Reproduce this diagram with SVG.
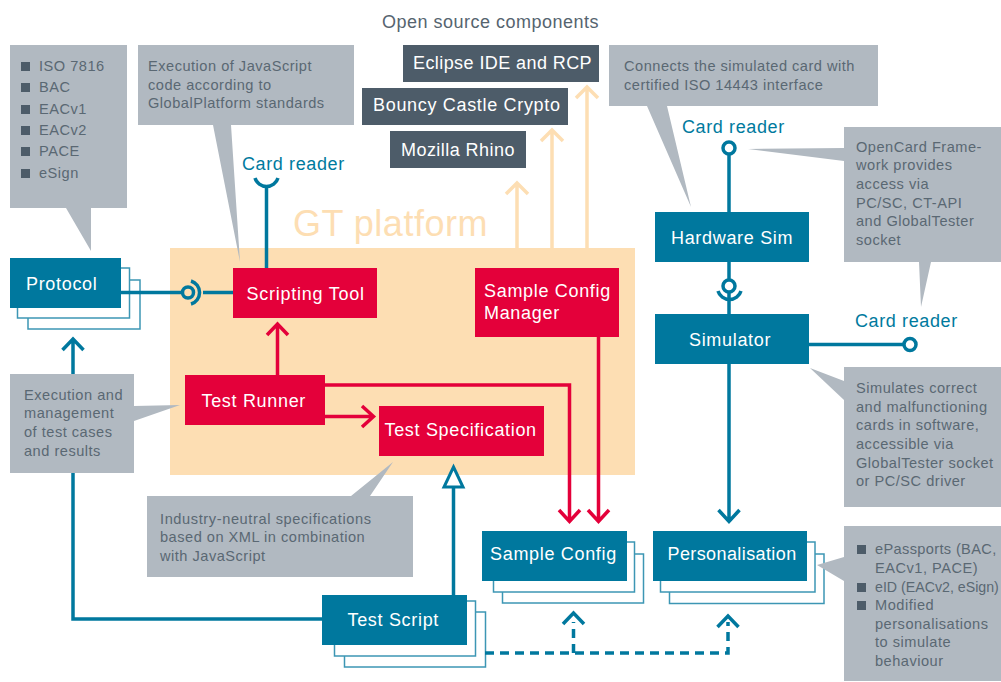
<svg xmlns="http://www.w3.org/2000/svg" width="1001" height="682" viewBox="0 0 1001 682">
<style>
text{font-family:"Liberation Sans",Arial,sans-serif}
.n{font-size:18px;fill:#fff;letter-spacing:.68px}
.c{font-size:14.6px;fill:#5a6873;letter-spacing:.5px}
.l{font-size:18px;fill:#007a9e;letter-spacing:.62px}
.t{fill:#00789e}.r{fill:#e4003a}.g{fill:#b1b9c1}.d{fill:#4d5c69}
.s{fill:#fff;stroke:#3c96b4;stroke-width:1.5}
.lt,.lr,.lo,.ld{fill:none;stroke-width:3.500}
.lt,.ld{stroke:#00789e}.lr{stroke:#e4003a}.lo{stroke:#fddeb3}
.ld{stroke-dasharray:9 6}
</style>
<rect width="1001" height="682" fill="#fff"/>
<rect id="gt-platform" x="170" y="248" width="465" height="227" fill="#fddeb3"/>
<text x="293" y="236" font-size="36" letter-spacing=".5" fill="#fddeb3">GT platform</text>
<text x="382" y="28" font-size="18" letter-spacing=".5" fill="#56646f">Open source components</text>

<g id="node-protocol">
<rect class="s" x="28" y="280" width="112" height="49"/><rect class="s" x="17.500" y="268" width="112" height="50"/>
<rect class="t" x="10" y="258" width="111" height="50"/><text class="n" x="26" y="290">Protocol</text></g>
<g id="node-scripting-tool"><rect class="r" x="233" y="268" width="144" height="50"/><text class="n" x="246.500" y="300" style="letter-spacing:.76px">Scripting Tool</text></g>
<g id="node-test-runner"><rect class="r" x="185" y="375" width="140" height="50"/><text class="n" x="201.500" y="407">Test Runner</text></g>
<g id="node-test-specification"><rect class="r" x="379" y="406" width="165" height="50"/><text class="n" x="384.500" y="436">Test Specification</text></g>
<g id="node-sample-config-manager"><rect class="r" x="475" y="268" width="144" height="69"/><text class="n" x="484" y="297">Sample Config</text><text class="n" x="484" y="319">Manager</text></g>
<g id="node-sample-config">
<rect class="s" x="502.500" y="554" width="141" height="49"/><rect class="s" x="493.500" y="542" width="141" height="50"/>
<rect class="t" x="482" y="531" width="145" height="50"/><text class="n" x="490" y="560">Sample Config</text></g>
<g id="node-personalisation">
<rect class="s" x="669.500" y="554" width="154.500" height="49.500"/><rect class="s" x="660.500" y="542" width="154.500" height="50"/>
<rect class="t" x="653" y="531" width="154" height="50"/><text class="n" x="667.500" y="560" style="letter-spacing:.4px">Personalisation</text></g>
<g id="node-test-script">
<rect class="s" x="344.500" y="612" width="141" height="55"/><rect class="s" x="334.500" y="601" width="141" height="55"/>
<rect class="t" x="322" y="595" width="145" height="50"/><text class="n" x="347.500" y="626">Test Script</text></g>
<g id="node-hardware-sim"><rect class="t" x="655" y="212" width="154" height="50"/><text class="n" x="671" y="244">Hardware Sim</text></g>
<g id="node-simulator"><rect class="t" x="655" y="314" width="154" height="50"/><text class="n" x="689" y="346">Simulator</text></g>
<g id="node-eclipse"><rect class="d" x="403" y="45" width="196" height="37"/><text class="n" x="413" y="69" style="letter-spacing:.42px">Eclipse IDE and RCP</text></g>
<g id="node-bouncy"><rect class="d" x="362" y="88" width="206" height="37"/><text class="n" x="373" y="111">Bouncy Castle Crypto</text></g>
<g id="node-rhino"><rect class="d" x="390" y="131" width="136" height="37"/><text class="n" x="401" y="156" style="letter-spacing:.45px">Mozilla Rhino</text></g>

<g id="connectors">
<path class="lo" d="M517 248V184M506 194L517 183L528 194"/>
<path class="lo" d="M552 248V131M541 141L552 130L563 141"/>
<path class="lo" d="M587 248V88M576 98L587 87L598 98"/>
<path class="lt" d="M121 292.500H181M203 292.500H233"/>
<circle cx="188" cy="292.500" r="5.500" fill="none" stroke="#00789e" stroke-width="3.500"/>
<path class="lt" d="M191 281A12 12 0 0 1 191 304"/>
<path class="lt" d="M266.500 268V188"/>
<path class="lt" d="M255 178A12 12 0 0 0 278 178"/>
<path class="lr" d="M277.500 375V325M267 335L277.500 324L288 335"/>
<path class="lr" d="M325 416.500H373M362 406L373.500 416.500L362 427"/>
<path class="lr" d="M325 385H569.500V521M559 510L569.500 521.500L580 510"/>
<path class="lr" d="M598.500 337V521M588 510L598.500 521.500L609 510"/>
<path class="lt" d="M729 153V212M729 262V279M729 293V314"/>
<circle cx="729" cy="148" r="6" fill="#fff" stroke="#00789e" stroke-width="3.500"/>
<circle cx="729" cy="286" r="6" fill="#fff" stroke="#00789e" stroke-width="3.500"/>
<path class="lt" d="M718 291A12 12 0 0 0 741 291"/>
<path class="lt" d="M809 344.500H904"/>
<circle cx="910" cy="344.500" r="6" fill="#fff" stroke="#00789e" stroke-width="3.500"/>
<path class="lt" d="M729 364V522M718.500 510L729 521.500L739.500 510"/>
<path class="lt" d="M73 374V339M62.500 350L73 339L83.500 350"/>
<path class="lt" d="M73 473V619H322"/>
<path class="lt" d="M453.500 595V488"/>
<path d="M453.500 467L463 487H444Z" fill="#fff" stroke="#00789e" stroke-width="3"/>
<path class="ld" d="M485 653H728V622"/>
<path class="ld" d="M573.500 653V622"/>
<path class="lt" d="M563 624L573.500 613L584 624"/>
<path class="lt" d="M717.500 627L728 616L738.500 627"/>
</g>

<g id="label-card-reader-1"><text class="l" x="242" y="170">Card reader</text></g>
<g id="label-card-reader-2"><text class="l" x="682" y="133">Card reader</text></g>
<g id="label-card-reader-3"><text class="l" x="855" y="327">Card reader</text></g>

<g id="note-protocols">
<path class="g" d="M10 45H127V208H91V251L66 208H10Z"/>
<rect class="d" x="21" y="62" width="9" height="9"/><text class="c" x="39" y="71">ISO 7816</text>
<rect class="d" x="21" y="83" width="9" height="9"/><text class="c" x="39" y="92">BAC</text>
<rect class="d" x="21" y="105" width="9" height="9"/><text class="c" x="39" y="114">EACv1</text>
<rect class="d" x="21" y="126" width="9" height="9"/><text class="c" x="39" y="135">EACv2</text>
<rect class="d" x="21" y="147" width="9" height="9"/><text class="c" x="39" y="156">PACE</text>
<rect class="d" x="21" y="169" width="9" height="9"/><text class="c" x="39" y="178">eSign</text></g>
<g id="note-execution">
<path class="g" d="M138 45H354V125H231L240 262L213 125H138Z"/>
<text class="c" x="148" y="71">Execution of JavaScript</text><text class="c" x="148" y="90">code according to</text><text class="c" x="148" y="108">GlobalPlatform standards</text></g>
<g id="note-connects">
<path class="g" d="M609 45H878V106H667L691 207L647 106H609Z"/>
<text class="c" x="624" y="71">Connects the simulated card with</text><text class="c" x="624" y="90">certified ISO 14443 interface</text></g>
<g id="note-opencard">
<path class="g" d="M844 127H1001V262H931L921 307L919 262H844V161L748 149L844 148Z"/>
<text class="c" x="856" y="152">OpenCard Frame-</text><text class="c" x="856" y="170">work provides</text><text class="c" x="856" y="189">access via</text><text class="c" x="856" y="208">PC/SC, CT-API</text><text class="c" x="856" y="226">and GlobalTester</text><text class="c" x="856" y="245">socket</text></g>
<g id="note-simulates">
<path class="g" d="M844 367H1001V507H844V400L810 368L844 381Z"/>
<text class="c" x="856" y="393">Simulates correct</text><text class="c" x="856" y="412">and malfunctioning</text><text class="c" x="856" y="430">cards in software,</text><text class="c" x="856" y="449">accessible via</text><text class="c" x="856" y="468">GlobalTester socket</text><text class="c" x="856" y="486">or PC/SC driver</text></g>
<g id="note-management">
<path class="g" d="M10 374H134V406L180 405L134 421V473H10Z"/>
<text class="c" x="24" y="400">Execution and</text><text class="c" x="24" y="418">management</text><text class="c" x="24" y="437">of test cases</text><text class="c" x="24" y="456">and results</text></g>
<g id="note-industry">
<path class="g" d="M147 496H351L393 462L370 496H413V577H147Z"/>
<text class="c" x="160" y="524" style="letter-spacing:.6px">Industry-neutral specifications</text><text class="c" x="160" y="542">based on XML in combination</text><text class="c" x="160" y="561">with JavaScript</text></g>
<g id="note-personalisation">
<path class="g" d="M844 526H1001V681H844V581L817 565L844 557Z"/>
<rect class="d" x="857" y="545" width="9" height="9"/><text class="c" x="875" y="554" style="letter-spacing:.35px">ePassports (BAC,</text><text class="c" x="875" y="573">EACv1, PACE)</text>
<rect class="d" x="857" y="583" width="9" height="9"/><text class="c" x="875" y="592" style="font-size:14.2px;letter-spacing:0">eID (EACv2, eSign)</text>
<rect class="d" x="857" y="601" width="9" height="9"/><text class="c" x="875" y="610">Modified</text><text class="c" x="875" y="629">personalisations</text><text class="c" x="875" y="647">to simulate</text><text class="c" x="875" y="666">behaviour</text></g>
</svg>
